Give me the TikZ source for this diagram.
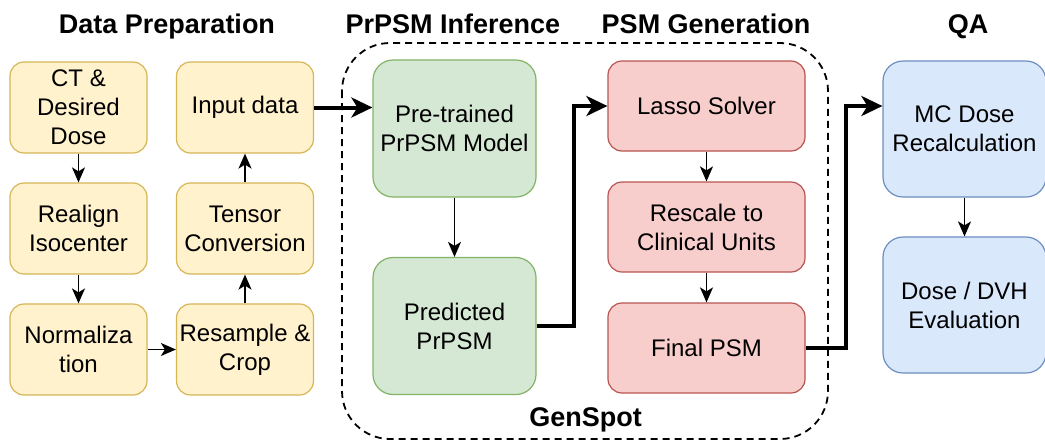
\documentclass[tikz,border=0pt]{standalone}
\usepackage{fontspec}
\setmainfont{Liberation Sans}
\usetikzlibrary{arrows.meta,positioning}
\definecolor{prepfill}{HTML}{FFF2CC}
\definecolor{prepline}{HTML}{D6B656}
\definecolor{inferfill}{HTML}{D5E8D4}
\definecolor{inferline}{HTML}{82B366}
\definecolor{genfill}{HTML}{F8CECC}
\definecolor{genline}{HTML}{B85450}
\definecolor{qafill}{HTML}{DAE8FC}
\definecolor{qaline}{HTML}{6C8EBF}
\begin{document}
\begin{tikzpicture}[x=1pt,y=1pt,node distance=121pt,
  box/.style={draw,line width=1.2pt,align=center,inner sep=0pt,font=\fontsize{24}{29}\selectfont},
  prep/.style={box,fill=prepfill,draw=prepline,minimum width=137pt,minimum height=91pt,rounded corners=14pt},
  infer/.style={box,fill=inferfill,draw=inferline,minimum width=163pt,minimum height=137pt,rounded corners=20pt},
  gen/.style={box,fill=genfill,draw=genline,minimum width=197pt,minimum height=90pt,rounded corners=14pt},
  qa/.style={box,fill=qafill,draw=qaline,minimum width=163pt,minimum height=136pt,rounded corners=20pt},
  stage/.style={font=\fontsize{27}{32}\selectfont\bfseries,anchor=base},
  flow/.style={line width=1.6pt,-{Stealth[length=15pt,width=13pt,inset=4pt]}},
  bigflow/.style={line width=4pt,-{Stealth[length=21pt,width=20pt,inset=6pt]}}]
  \useasboundingbox (0,0) rectangle (1045,-445);

  % GenSpot frame
  \draw[line width=1.8pt,dash pattern=on 7pt off 5pt,rounded corners=48pt] (342,-43) rectangle (828,-439);
  \node[stage] (genspot) at (585.5,-426) {GenSpot};

  % stage titles
  \node[stage] (tprep) at (167,-33) {Data Preparation};
  \node[stage] (tinfer) at (453,-33) {PrPSM Inference};
  \node[stage] (tgen) at (706,-33) {PSM Generation};
  \node[stage] (tqa) at (968,-33) {QA};

  % data preparation
  \node[prep] (ct) at (78.5,-107.5) {CT \&\\Desired\\Dose};
  \node[prep] (realign) [below of=ct] {Realign\\Isocenter};
  \node[prep] (norm) [below of=realign] {Normaliza\\tion};
  \node[prep] (resample) [node distance=166.5pt,right of=norm] {Resample \&\\Crop};
  \node[prep] (tensor) [above of=resample] {Tensor\\Conversion};
  \node[prep] (input) [above of=tensor] {Input data};

  % inference
  \node[infer] (pretrained) at (454.5,-128.5) {Pre-trained\\PrPSM Model};
  \node[infer] (predicted) [node distance=197.5pt,below of=pretrained] {Predicted\\PrPSM};

  % generation
  \node[gen] (lasso) at (706.5,-106) {Lasso Solver};
  \node[gen] (rescale) [below of=lasso] {Rescale to\\Clinical Units};
  \node[gen] (final) [below of=rescale] {Final PSM};

  % QA
  \node[qa] (mcdose) at (964.5,-129) {MC Dose\\Recalculation};
  \node[qa] (dvh) [node distance=176pt,below of=mcdose] {Dose / DVH\\Evaluation};

  \draw[flow] (ct) -- (realign);
  \draw[flow] (realign) -- (norm);
  \draw[flow] (norm) -- (resample);
  \draw[flow] (resample) -- (tensor);
  \draw[flow] (tensor) -- (input);
  \draw[bigflow] (input.east) -- (input.east -| pretrained.west);
  \draw[flow] (pretrained) -- (predicted);
  \draw[bigflow] (predicted.east) -- ++(37,0) |- (lasso.west);
  \draw[flow] (lasso) -- (rescale);
  \draw[flow] (rescale) -- (final);
  \draw[bigflow] (final.east) -- ++(40,0) |- (lasso.east -| mcdose.west);
  \draw[flow] (mcdose) -- (dvh);
\end{tikzpicture}
\end{document}
